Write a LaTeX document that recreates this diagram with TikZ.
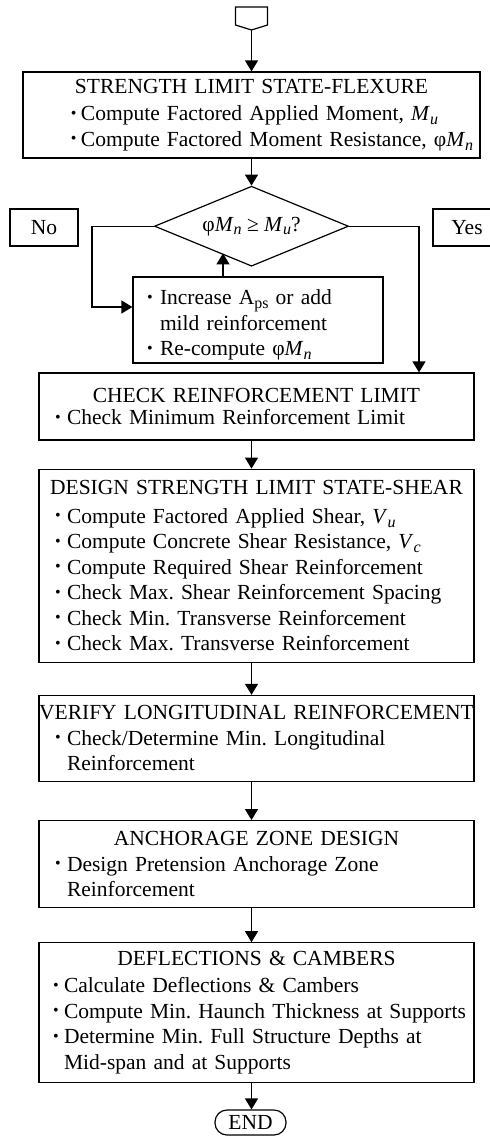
\documentclass[tikz,border=0pt]{standalone}
\usepackage{fontspec}
\setmainfont{Liberation Serif}
\usepackage{graphicx}
\usetikzlibrary{ arrows.meta, positioning, shapes.geometric }

\newlength\bulskip % room left of the bullet
\newlength\bulw    % room kept for the bullet itself
\newcommand\bul[1]{\par\noindent\hspace*{\bulskip}%
  \makebox[\bulw][l]{\raisebox{.25ex}{\scalebox{.75}{\textbullet}}}\mbox{#1}}
\newcommand\cont[1]{\par\noindent\hspace*{\dimexpr\bulskip+\bulw\relax}\mbox{#1}}
\newcommand\boxtitle[2][0pt]{\noindent\makebox[\hsize]{#2}\par\vspace{#1}}
\newcommand\lowsub[1]{\raisebox{-.4ex}{\fontsize{16}{16}\selectfont#1}}
\newcommand\fsub[2]{\textit{#1}\lowsub{\textit{#2}}}

\tikzset{
>={Triangle[length=11pt,width=13pt]}, % filled arrow heads
every node/.style={inner sep=0pt, font=\fontsize{21.5}{25.5}\selectfont\frenchspacing},
wire/.style={line width=1.2pt},
stagebox/.style={draw, line width=1.2pt, inner xsep=4pt, text width=427pt, align=left,
  minimum height=#1, execute at begin node={\bulskip=12pt\bulw=12pt}},
decision/.style={diamond, aspect=2.4, draw, line width=1.2pt, minimum width=194pt, minimum height=80pt},
answer/.style={draw, line width=1.2pt, minimum width=68pt, minimum height=37pt},
terminal/.style={draw, line width=1.2pt, rounded corners=12pt, minimum width=71pt, minimum height=25pt},
}

\begin{document}
\begin{tikzpicture}[x=1pt, y=1pt]
  \useasboundingbox (0,0) rectangle (490,-1136);

  % off-page connector at the top
  \draw[wire] (235.5,-7) -- (267.5,-7) -- (267.5,-25) -- (251.5,-30) -- (235.5,-25) -- cycle;
  \coordinate (start) at (251.5,-30);

  \node[stagebox=86pt, text width=449pt, execute at begin node={\bulskip=44pt\bulw=10pt}] (flex) at (251.5,-115) {
    \boxtitle[1.5pt]{STRENGTH LIMIT STATE-FLEXURE}
    \bul{Compute Factored Applied Moment, \fsub{M}{u}}
    \bul{Compute Factored Moment Resistance, φ\fsub{M}{n}}};
  \node[decision, below=27pt of flex] (check) {φ\fsub{M}{n} ≥ \fsub{M}{u}?};
  \node[answer] (no) at (44,-227.5) {No};
  \node[answer] (yes) at (467,-227.5) {Yes};
  \node[stagebox=86pt, text width=242pt, execute at begin node={\bulskip=10pt\bulw=13pt}] (incr) at (258,-320) {
    \bul{Increase A\lowsub{ps} or add}
    \cont{mild reinforcement}
    \bul{Re-compute φ\fsub{M}{n}}};

  \node[stagebox=67pt] (reinf) at (256.5,-406.5) {
    \boxtitle[-3.5pt]{CHECK REINFORCEMENT LIMIT}
    \bul{Check Minimum Reinforcement Limit}};
  \node[stagebox=193pt, below=28pt of reinf] (shear) {
    \boxtitle[3.5pt]{DESIGN STRENGTH LIMIT STATE-SHEAR}
    \bul{Compute Factored Applied Shear, \fsub{V}{u}}
    \bul{Compute Concrete Shear Resistance, \fsub{V}{c}}
    \bul{Compute Required Shear Reinforcement}
    \bul{Check Max. Shear Reinforcement Spacing}
    \bul{Check Min. Transverse Reinforcement}
    \bul{Check Max. Transverse Reinforcement}};
  \node[stagebox=86pt, below=32pt of shear] (longit) {
    \boxtitle{VERIFY LONGITUDINAL REINFORCEMENT}
    \bul{Check/Determine Min. Longitudinal}
    \cont{Reinforcement}};
  \node[stagebox=87pt, below=38pt of longit] (anch) {
    \boxtitle{ANCHORAGE ZONE DESIGN}
    \bul{Design Pretension Anchorage Zone}
    \cont{Reinforcement}};
  \node[stagebox=140pt, below=34pt of anch, execute at begin node={\bulskip=10pt\bulw=11pt}] (defl) {
    \boxtitle[1.5pt]{DEFLECTIONS \& CAMBERS}
    \bul{Calculate Deflections \& Cambers}
    \bul{Compute Min. Haunch Thickness at Supports}
    \bul{Determine Min. Full Structure Depths at}
    \cont{Mid-span and at Supports}};
  \node[terminal] (end) at (250.5,-1122.5) {END};

  \draw[wire,->] (start) -- (flex);
  \draw[wire,->] (flex) -- (check);
  \draw[wire,->] (check.west) -- ++(-62,0) |- ([yshift=13pt]incr.west);
  \draw[wire,->] ([xshift=-35pt]incr.north) -- ++(0,23);
  \draw[wire,->] (check.east) -| ([xshift=162.5pt]reinf.north);
  \foreach \a/\b in {reinf/shear, shear/longit, longit/anch, anch/defl, defl/end}
    \draw[wire,->] (\a.south -| flex) -- (\b.north -| flex);
\end{tikzpicture}
\end{document}
